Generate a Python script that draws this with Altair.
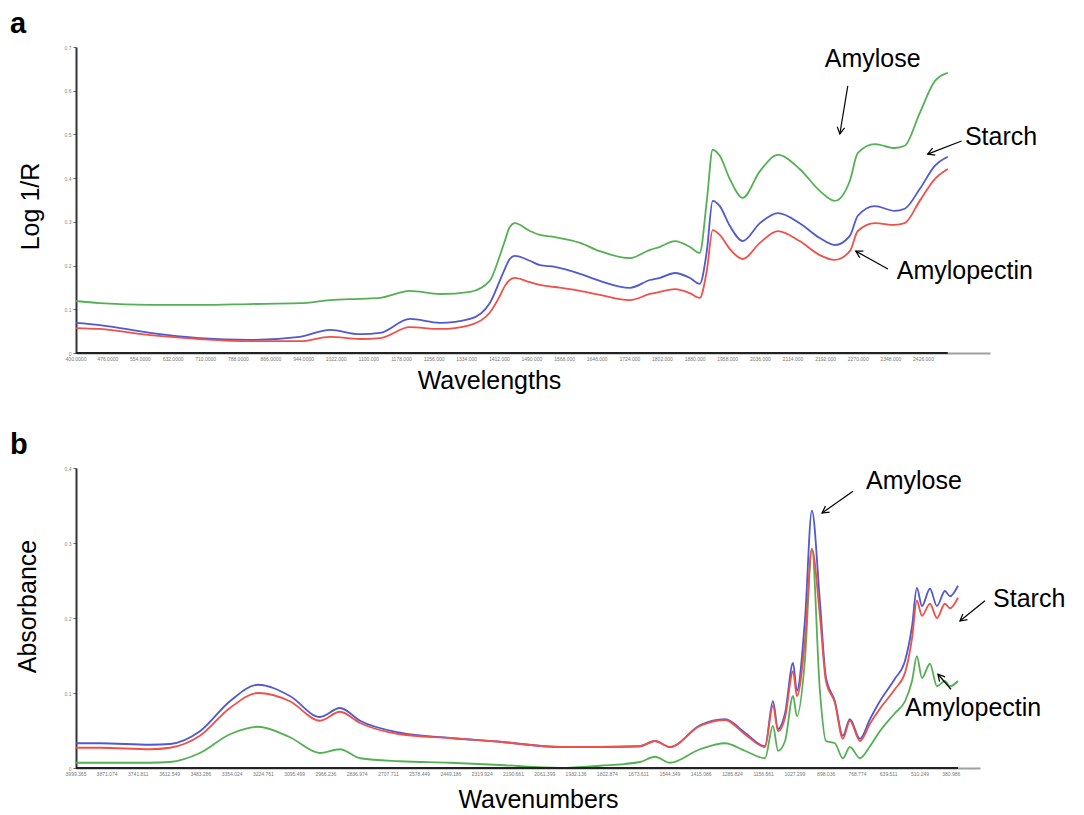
import math
import altair as alt
import pandas as pd

FONT = "Liberation Sans"
TXT = 25

# ---------------- panel a : NIR (Log 1/R vs wavelength) ----------------
wavelength = [400, 457, 577, 696, 816, 935, 1007, 1079, 1127, 1198, 1270, 1342, 1389, 1413, 1425,
              1437, 1449, 1485, 1509, 1545, 1605, 1652, 1724, 1772, 1796, 1832, 1867, 1891, 1908,
              1922, 1939, 1963, 1994, 2035, 2078, 2130, 2178, 2214, 2250, 2269, 2310, 2357, 2381,
              2417, 2453, 2484]
amylose_a = [.119, .114, .110, .110, .112, .114, .121, .124, .126, .142,
             .135, .140, .165, .222, .256, .288, .297, .279, .270, .265,
             .252, .233, .217, .236, .243, .256, .243, .229, .348, .465,
             .451, .398, .355, .416, .453, .421, .371, .348, .394, .458,
             .478, .469, .474, .549, .622, .641]
starch_a = [.069, .064, .046, .034, .030, .037, .053, .043, .046, .078,
            .069, .078, .114, .165, .192, .215, .222, .211, .201, .197,
            .181, .165, .149, .167, .172, .183, .172, .158, .233, .348,
            .336, .291, .256, .297, .320, .297, .263, .247, .268, .314,
            .336, .325, .330, .375, .428, .449]
amylopectin_a = [.057, .055, .041, .032, .027, .027, .037, .032, .034, .059,
                 .055, .064, .092, .130, .153, .167, .172, .162, .156, .151,
                 .142, .133, .121, .135, .140, .146, .137, .126, .188, .281,
                 .270, .238, .215, .252, .279, .256, .224, .213, .233, .279,
                 .297, .293, .297, .348, .398, .421]
ticks_a = [400, 476, 554, 632, 710, 788, 866, 944, 1022, 1100, 1178, 1256, 1334, 1412, 1490,
           1568, 1646, 1724, 1802, 1880, 1958, 2036, 2114, 2192, 2270, 2348, 2426]
xdom_a = [400, 2585]
ydom_a = [0, 0.7]
W_A, H_A = 914, 306

ann_a_text = ["Amylose", "Starch", "Amylopectin"]
ann_a_tx = [2190, 2525, 2362]
ann_a_ty = [0.673, 0.494, 0.188]
arr_a_x1 = [2245, 2517, 2341]
arr_a_y1 = [0.611, 0.485, 0.192]
arr_a_x2 = [2226, 2436, 2264]
arr_a_y2 = [0.501, 0.455, 0.233]

# ---------------- panel b : FTIR (absorbance vs wavenumber) ----------------
wavenumber = [3999, 3900, 3693, 3611, 3487, 3363, 3247, 3115, 2991, 2908,
              2825, 2660, 2453, 2247, 1999, 1833, 1668, 1606, 1544, 1420,
              1316, 1234, 1151, 1118, 1097, 1068, 1035, 1019, 986, 957,
              924, 899, 862, 829, 800, 758, 717, 676, 614, 572,
              543, 523, 502, 469, 440, 407, 386, 353]
blue_b = [.033, .033, .031, .032, .049, .089, .111, .096, .068, .080,
          .063, .047, .040, .035, .028, .028, .029, .036, .028, .057,
          .065, .047, .029, .089, .052, .073, .140, .103, .196, .343,
          .223, .121, .089, .043, .065, .039, .065, .089, .119, .143,
          .189, .240, .216, .239, .216, .236, .229, .243]
red_b = [.027, .027, .025, .027, .043, .080, .100, .089, .063, .075,
         .060, .045, .040, .035, .028, .028, .029, .036, .028, .056,
         .064, .045, .028, .083, .049, .067, .129, .096, .169, .292,
         .203, .116, .087, .039, .063, .036, .059, .079, .105, .127,
         .173, .223, .203, .219, .200, .219, .213, .227]
green_b = [.007, .007, .007, .008, .020, .045, .055, .041, .020, .025,
           .013, .009, .007, .004, .000, .003, .008, .015, .007, .025,
           .033, .023, .013, .056, .023, .036, .096, .069, .143, .292,
           .103, .036, .033, .013, .028, .013, .029, .049, .073, .089,
           .116, .149, .120, .139, .109, .116, .109, .116]
ticks_b = [3999.365, 3871.074, 3741.811, 3612.549, 3483.286, 3354.024, 3224.761, 3095.499,
           2966.236, 2836.974, 2707.711, 2578.449, 2449.186, 2319.924, 2190.661, 2061.399,
           1932.136, 1802.874, 1673.611, 1544.349, 1415.086, 1285.824, 1156.561, 1027.299,
           898.036, 768.774, 639.511, 510.249, 380.986]
xdom_b = [262, 3999.365]
ydom_b = [0, 0.4]
W_B, H_B = 904, 300

ann_b_text = ["Amylose", "Starch", "Amylopectin"]
ann_b_tx = [733.5, 208, 572]
ann_b_ty = [0.383, 0.225, 0.080]
arr_b_x1 = [787, 241.5, 382]
arr_b_y1 = [0.369, 0.223, 0.105]
arr_b_x2 = [915, 345, 436]
arr_b_y2 = [0.340, 0.196, 0.125]

series_names = ["Amylose", "Starch", "Amylopectin"]

ARROW = "M -1 -0.55 L 0 0 L -1 0.55"


def arrow_angles(x1, y1, x2, y2, xdom, ydom, w, h, reverse):
    out = []
    for a, b, c, d in zip(x1, y1, x2, y2):
        dx = (c - a) * w / (xdom[1] - xdom[0]) * (-1 if reverse else 1)
        dy = -(d - b) * h / (ydom[1] - ydom[0])
        out.append(math.degrees(math.atan2(dy, dx)) % 360)
    return out


def panel(xvals, series, colors, xdom, ydom, w, h, reverse, xticks, label_fmt, xtitle, ytitle,
          ytitle_pad, xtitle_pad, xtitle_x, ytitle_y, ann, arrows, letter, letter_y, baseline_rule):
    rows = []
    for name, vals in series:
        for xv, yv in zip(xvals, vals):
            rows.append({"x": xv, "y": yv, "s": name})
    df = pd.DataFrame(rows)

    xscale = alt.Scale(domain=xdom, reverse=reverse, nice=False, zero=False)
    yscale = alt.Scale(domain=ydom, nice=False, zero=True)
    yvals = [round(i * 0.05, 2) for i in range(int(round(ydom[1] / 0.05)) + 1)]

    xaxis = alt.Axis(labels=False, ticks=False, grid=False,
                     domainColor="#a0a0a0", domainWidth=2,
                     title=xtitle, titleFont=FONT, titleFontSize=TXT, titleFontWeight="normal",
                     titleColor="black", titlePadding=xtitle_pad, titleX=xtitle_x)
    yaxis = alt.Axis(values=yvals,
                     labelExpr="round(datum.value*20) % 2 == 0 ? (datum.value == 0 ? '0' : format(datum.value, '.1f')) : ''",
                     labelFontSize=5, labelColor="#888", tickSize=3, tickColor="#666",
                     labelOverlap=False, grid=False, domainColor="#333", domainWidth=2, labelPadding=2,
                     title=ytitle, titleFont=FONT, titleFontSize=TXT, titleFontWeight="normal",
                     titleColor="black", titlePadding=ytitle_pad, titleY=ytitle_y)

    lines = alt.Chart(df).mark_line(strokeWidth=1.8, interpolate="monotone").encode(
        x=alt.X("x:Q", scale=xscale, axis=xaxis),
        y=alt.Y("y:Q", scale=yscale, axis=yaxis),
        color=alt.Color("s:N", scale=alt.Scale(domain=series_names, range=colors), legend=None),
        order=alt.Order("x:Q"),
    )

    # tick labels along the x axis
    tick_df = pd.DataFrame({"v": xticks, "lab": [label_fmt(v) for v in xticks]})
    tick_labels = alt.Chart(tick_df).mark_text(fontSize=5, color="#777", baseline="middle",
                                               align="center", font=FONT).encode(
        x=alt.X("v:Q", scale=xscale), y=alt.value(h + 6), text="lab:N")

    base_df = pd.DataFrame({"x": [baseline_rule[0]], "x2": [baseline_rule[1]], "y": [0]})
    base = alt.Chart(base_df).mark_rule(color="#222", strokeWidth=2).encode(
        x=alt.X("x:Q", scale=xscale), x2="x2:Q", y=alt.Y("y:Q", scale=yscale))

    tdf = pd.DataFrame({"t": ann[0], "x": ann[1], "y": ann[2]})
    texts = alt.Chart(tdf).mark_text(align="left", baseline="middle", font=FONT,
                                     fontSize=TXT, color="black").encode(
        x=alt.X("x:Q", scale=xscale), y=alt.Y("y:Q", scale=yscale), text="t:N")

    angles = arrow_angles(*arrows, xdom, ydom, w, h, reverse)
    adf = pd.DataFrame({"x1": arrows[0], "y1": arrows[1], "x2": arrows[2], "y2": arrows[3],
                        "ang": angles})
    shafts = alt.Chart(adf).mark_rule(color="black", strokeWidth=1.2).encode(
        x=alt.X("x1:Q", scale=xscale), y=alt.Y("y1:Q", scale=yscale), x2="x2:Q", y2="y2:Q")
    heads = alt.Chart(adf).mark_point(shape=ARROW, filled=False, size=180, strokeWidth=1.2,
                                      color="black", opacity=1).encode(
        x=alt.X("x2:Q", scale=xscale), y=alt.Y("y2:Q", scale=yscale),
        angle=alt.Angle("ang:Q", scale=None))

    ldf = pd.DataFrame({"lab": [letter]})
    let = alt.Chart(ldf).mark_text(align="left", baseline="top", font=FONT, fontSize=29,
                                   fontWeight="bold", color="black").encode(
        x=alt.value(-66), y=alt.value(letter_y), text="lab:N")

    return alt.layer(lines, base, tick_labels, texts, shafts, heads, let).properties(width=w, height=h)


def fmt_a(v):
    return f"{v:.4f}" if v < 1000 else f"{v:.3f}"


def fmt_b(v):
    return f"{v:.3f}"


chart_a = panel(
    wavelength,
    [("Amylose", amylose_a), ("Starch", starch_a), ("Amylopectin", amylopectin_a)],
    ["#55b055", "#5059d0", "#f0504a"],
    xdom_a, ydom_a, W_A, H_A, False, ticks_a, fmt_a,
    "Wavelengths", "Log 1/R", 21, 15, 413, 159,
    (ann_a_text, ann_a_tx, ann_a_ty), (arr_a_x1, arr_a_y1, arr_a_x2, arr_a_y2),
    "a", -37, [400, 2484])

chart_b = panel(
    wavenumber,
    [("Amylose", green_b), ("Starch", blue_b), ("Amylopectin", red_b)],
    ["#3f9f3f", "#4a54d0", "#f04040"],
    xdom_b, ydom_b, W_B, H_B, True, ticks_b, fmt_b,
    "Wavenumbers", "Absorbance", 24, 19, 462, 138,
    (ann_b_text, ann_b_tx, ann_b_ty), (arr_b_x1, arr_b_y1, arr_b_x2, arr_b_y2),
    "b", -37, [353, 3999.365])

chart = alt.vconcat(chart_a, chart_b, spacing=115, bounds="flush").properties(
    padding={"left": 2, "top": 2, "right": 2, "bottom": 2},
    background="white",
).configure_view(strokeWidth=0)

chart.save("out.html", embed_options={"renderer": "svg", "actions": False})
